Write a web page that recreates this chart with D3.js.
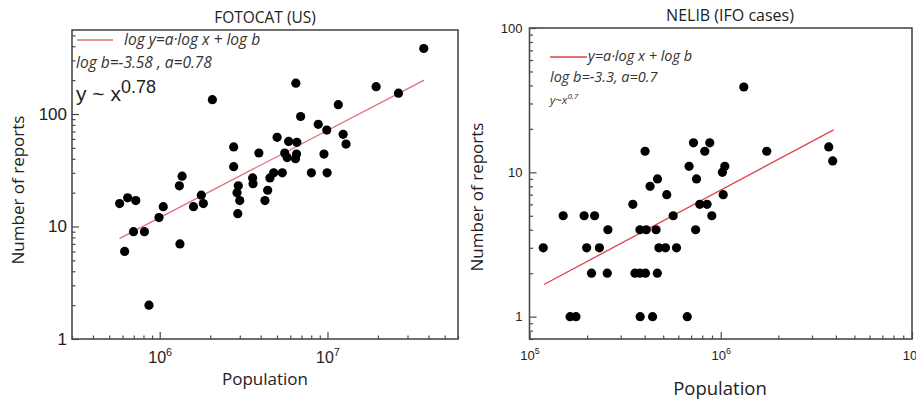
<!DOCTYPE html>
<html>
<head>
<meta charset="utf-8">
<script src="https://cdn.jsdelivr.net/npm/d3@7"></script>
<style>
  body { margin: 0; background: #fff; }
  svg { display: block; }
</style>
</head>
<body>
<div id="chart"></div>
<script>
// FOTOCAT (US): population vs number of reports
const fotocatPop = [3.75e7, 1.95e7, 2.65e7, 6.48e6, 2.06e6, 1.16e7, 6.92e6, 8.81e6, 9.91e6, 1.24e7,
  1.29e7, 5.01e6, 2.76e6, 5.87e6, 6.57e6, 3.90e6, 5.56e6, 5.75e6, 6.54e6, 6.45e6,
  9.53e6, 2.76e6, 1.36e6, 8.02e6, 9.95e6, 4.78e6, 5.38e6, 3.58e6, 4.54e6, 3.60e6,
  1.31e6, 2.94e6, 2.89e6, 4.40e6, 1.77e6, 6.44e5, 7.20e5, 3.00e6, 4.24e6, 5.77e5,
  1.05e6, 1.59e6, 1.82e6, 9.90e5, 6.98e5, 8.11e5, 6.18e5, 1.32e6, 8.63e5, 2.92e6];
const fotocatReports = [382, 175, 153, 188, 134, 121, 95, 81, 72, 66,
  54, 62, 51, 57, 56, 45, 45, 41, 44, 40,
  44, 34, 28, 30, 30, 30, 30, 27, 27, 24,
  23, 23, 20, 21, 19, 18, 17, 17, 17, 16,
  15, 15, 16, 12, 9, 9, 6, 7, 2, 13];
const fotocatFit = [[5.75e5, 7.8], [3.77e7, 200]];

// NELIB (IFO cases)
const nelibPop = [1.32e6, 4.02e5, 7.20e5, 8.76e5, 8.25e5, 1.74e6, 3.67e6, 3.85e6, 6.83e5, 1.05e6,
  1.02e6, 4.27e5, 4.67e5, 7.47e5, 5.22e5, 1.03e6, 3.47e5, 7.77e5, 8.48e5, 1.50e5,
  1.93e5, 2.19e5, 5.64e5, 8.98e5, 2.57e5, 3.78e5, 4.08e5, 4.59e5, 7.39e5, 1.18e5,
  1.99e5, 2.32e5, 4.75e5, 5.14e5, 5.87e5, 2.11e5, 2.55e5, 3.56e5, 3.78e5, 4.04e5,
  4.66e5, 1.63e5, 1.75e5, 3.79e5, 4.40e5, 6.68e5];
const nelibReports = [39, 14, 16, 16, 14, 14, 15, 12, 11, 11,
  10, 8, 9, 9, 7, 7, 6, 6, 6, 5,
  5, 5, 5, 5, 4, 4, 4, 4, 4, 3,
  3, 3, 3, 3, 3, 2, 2, 2, 2, 2,
  2, 1, 1, 1, 1, 1];
const nelibFit = [[1.19e5, 1.67], [3.89e6, 19.7]];

const fotocatXTicks = [1e6, 1e7];
const fotocatYTicks = [1, 10, 100];
const nelibXTicks = [1e5, 1e6, 1e7];
const nelibYTicks = [1, 10, 100];

const width = 916, height = 402;
const svg = d3.select("#chart").append("svg")
  .attr("width", width)
  .attr("height", height);

const sansFont = "'Open Sans', 'Noto Sans', sans-serif";
const numFont = "'Liberation Sans', Arial, sans-serif";
const frameColor = "#4a4a4a";

function isMajor(d) {
  const l = Math.log10(d);
  return Math.abs(l - Math.round(l)) < 1e-6;
}

function drawPanel(p) {
  const x = d3.scaleLog().domain(p.xDomain).range([p.left, p.right]);
  const y = d3.scaleLog().domain(p.yDomain).range([p.bottom, p.top]);
  const g = svg.append("g");

  // minor ticks
  g.append("g")
    .attr("transform", "translate(0," + p.bottom + ")")
    .call(d3.axisBottom(x).tickValues(x.ticks().filter(d => !isMajor(d))).tickSize(-3.5).tickFormat(""))
    .call(a => a.select(".domain").remove());
  g.append("g")
    .attr("transform", "translate(" + p.left + ",0)")
    .call(d3.axisLeft(y).tickValues(y.ticks().filter(d => !isMajor(d))).tickSize(-3.5).tickFormat(""))
    .call(a => a.select(".domain").remove());

  // major ticks + labels
  const xa = g.append("g")
    .attr("transform", "translate(0," + p.bottom + ")")
    .call(d3.axisBottom(x).tickValues(p.xTicks).tickSize(-7).tickPadding(p.xPad).tickFormat(""))
    .call(a => a.select(".domain").remove());
  xa.selectAll(".tick text")
    .attr("font-family", numFont)
    .attr("font-size", p.xFont)
    .attr("fill", "#222")
    .each(function(d) {
      const t = d3.select(this);
      t.append("tspan").text("10");
      t.append("tspan").attr("dy", -p.xFont * 0.45).attr("font-size", p.xFont * 0.68)
        .text(Math.round(Math.log10(d)));
    });

  g.append("g")
    .attr("transform", "translate(" + p.left + ",0)")
    .call(d3.axisLeft(y).tickValues(p.yTicks).tickSize(-7).tickPadding(p.yPad).tickFormat(d3.format("d")))
    .call(a => a.select(".domain").remove())
    .selectAll(".tick text")
    .attr("font-family", numFont)
    .attr("font-size", p.yFont)
    .attr("fill", "#222");

  g.selectAll(".tick line").attr("stroke", frameColor).attr("stroke-width", 1.2);

  // frame
  g.append("rect")
    .attr("x", p.left).attr("y", p.top)
    .attr("width", p.right - p.left).attr("height", p.bottom - p.top)
    .attr("fill", "none").attr("stroke", frameColor).attr("stroke-width", 1.6);

  // fit line
  g.append("path")
    .datum(p.fit)
    .attr("fill", "none")
    .attr("stroke", p.fitColor)
    .attr("stroke-width", 1.3)
    .attr("d", d3.line().x(d => x(d[0])).y(d => y(d[1])));

  // points
  g.append("g").selectAll("circle")
    .data(p.pop.map((v, i) => [v, p.reports[i]]))
    .enter().append("circle")
    .attr("cx", d => x(d[0]))
    .attr("cy", d => y(d[1]))
    .attr("r", 4.6)
    .attr("fill", "#000");

  // title
  g.append("text")
    .attr("x", p.titleX).attr("y", p.titleY)
    .attr("text-anchor", "middle")
    .attr("font-family", sansFont)
    .attr("font-size", p.titleFont)
    .attr("fill", "#222")
    .text(p.title);

  // axis titles
  g.append("text")
    .attr("x", p.xTitleX).attr("y", p.xTitleY)
    .attr("text-anchor", "middle")
    .attr("font-family", sansFont)
    .attr("font-size", p.xTitleFont)
    .attr("fill", "#222")
    .text("Population");

  g.append("text")
    .attr("transform", "translate(" + p.yTitleX + "," + p.yTitleY + ") rotate(-90)")
    .attr("text-anchor", "middle")
    .attr("font-family", sansFont)
    .attr("font-size", p.yTitleFont)
    .attr("fill", "#222")
    .text("Number of reports");

  return g;
}

const left = drawPanel({
  xDomain: [3e5, 6e7], yDomain: [1, 558],
  left: 72, right: 458, top: 30, bottom: 339,
  xTicks: fotocatXTicks, yTicks: fotocatYTicks,
  xFont: 16, yFont: 17, xPad: 13, yPad: 5,
  pop: fotocatPop, reports: fotocatReports, fit: fotocatFit, fitColor: "#e0707a",
  title: "FOTOCAT (US)", titleX: 265, titleY: 23, titleFont: 15.5,
  xTitleX: 265, xTitleY: 385, xTitleFont: 17,
  yTitleX: 24, yTitleY: 190, yTitleFont: 17
});

// left legend
left.append("line")
  .attr("x1", 77).attr("x2", 113).attr("y1", 40).attr("y2", 40)
  .attr("stroke", "#e0707a").attr("stroke-width", 1.3);
left.append("text")
  .attr("x", 124).attr("y", 45)
  .attr("font-family", sansFont).attr("font-style", "italic")
  .attr("font-size", 15.5).attr("fill", "#333")
  .text("log y=a·log x + log b");
left.append("text")
  .attr("x", 76).attr("y", 68)
  .attr("font-family", sansFont).attr("font-style", "italic")
  .attr("font-size", 15.5).attr("fill", "#333")
  .text("log b=-3.58 , a=0.78");
const pl = left.append("text")
  .attr("x", 76).attr("y", 101)
  .attr("font-family", numFont)
  .attr("font-size", 21).attr("fill", "#222");
pl.append("tspan").text("y ~ x");
pl.append("tspan").attr("dy", -8).attr("font-size", 18).text("0.78");

const right = drawPanel({
  xDomain: [1e5, 1e7], yDomain: [0.7, 100],
  left: 529.5, right: 912, top: 28, bottom: 339,
  xTicks: nelibXTicks, yTicks: nelibYTicks,
  xFont: 13, yFont: 13, xPad: 12, yPad: 7,
  pop: nelibPop, reports: nelibReports, fit: nelibFit, fitColor: "#e2404a",
  title: "NELIB (IFO cases)", titleX: 730, titleY: 21, titleFont: 16,
  xTitleX: 720, xTitleY: 395, xTitleFont: 18.5,
  yTitleX: 483, yTitleY: 197, yTitleFont: 17
});

// right legend
right.append("line")
  .attr("x1", 550).attr("x2", 587).attr("y1", 57).attr("y2", 57)
  .attr("stroke", "#e2404a").attr("stroke-width", 1.3);
right.append("text")
  .attr("x", 588).attr("y", 61)
  .attr("font-family", sansFont).attr("font-style", "italic")
  .attr("font-size", 14.5).attr("fill", "#333")
  .text("y=a·log x + log b");
right.append("text")
  .attr("x", 550).attr("y", 82)
  .attr("font-family", sansFont).attr("font-style", "italic")
  .attr("font-size", 14.5).attr("fill", "#333")
  .text("log b=-3.3, a=0.7");
const pr = right.append("text")
  .attr("x", 550).attr("y", 104)
  .attr("font-family", sansFont).attr("font-style", "italic")
  .attr("font-size", 11.5).attr("fill", "#333");
pr.append("tspan").text("y~x");
pr.append("tspan").attr("dy", -5).attr("font-size", 8).text("0.7");
</script>
</body>
</html>
